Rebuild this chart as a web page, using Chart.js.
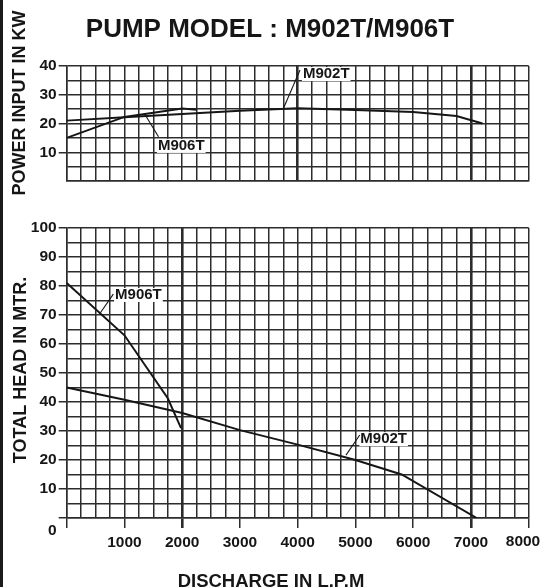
<!DOCTYPE html>
<html>
<head>
<meta charset="utf-8">
<script src="https://cdn.jsdelivr.net/npm/chart.js@4.4.1/dist/chart.umd.min.js"></script>
<style>
  html, body { margin: 0; padding: 0; background: #fff; }
  #wrap { position: relative; width: 542px; height: 587px; overflow: hidden; }
  #edge { position: absolute; left: 0; top: 0; width: 3px; height: 587px; background: #1b1b1b; }
  #power { position: absolute; left: 0; top: 0; width: 542px; height: 200px; }
  #head { position: absolute; left: 0; top: 200px; width: 542px; height: 387px; }
</style>
</head>
<body>
<div id="wrap">
  <canvas id="power" width="542" height="200"></canvas>
  <canvas id="head" width="542" height="387"></canvas>
  <div id="edge"></div>
</div>
<script>
var FONT = '"Liberation Sans", Arial, Helvetica, sans-serif';
var INK = '#161616';
var GRID = '#2c2c2c';

// discharge (L.P.M) and power input (kW)
var m902tPowerFlow = [0, 1000, 2000, 3000, 4000, 5000, 6000, 6750, 7200];
var m902tPower = [21, 22.2, 23.3, 24.4, 25.3, 24.7, 24, 22.6, 20];
var m906tPowerFlow = [0, 1000, 2000, 2250];
var m906tPower = [15, 22.3, 25.2, 24.8];

// discharge (L.P.M) and total head (m)
var m902tHeadFlow = [0, 1000, 2000, 3000, 4000, 5000, 5800, 7100];
var m902tHead = [45, 40.8, 36.2, 30.3, 25.3, 20, 15, 0];
var m906tHeadFlow = [0, 1000, 1750, 1980];
var m906tHead = [81, 63, 41.3, 31];

var flowMax = 8000;
var powerMax = 40;
var headMax = 100;

// curve names with leader lines: point on curve, leader end, text anchor
var powerNotes = ['M902T', 'M906T'];
var powerNoteFrom = [[3750, 25.1], [1345, 23.5]];
var powerNoteTo = [[4040, 38.6], [1590, 15.4]];
var powerNoteText = [[4090, 37.2], [1580, 12.2]];
var headNotes = ['M902T', 'M906T'];
var headNoteFrom = [[4836, 21.7], [578, 70.6]];
var headNoteTo = [[5074, 28.6], [807, 77.2]];
var headNoteText = [[5084, 27.2], [838, 76.9]];

function toPoints(xs, ys) {
  return xs.map(function (x, i) { return {x: x, y: ys[i]}; });
}

function lineSet(label, xs, ys) {
  return {
    label: label,
    data: toPoints(xs, ys),
    borderColor: INK,
    borderWidth: 2,
    pointRadius: 0,
    tension: 0,
    fill: false
  };
}

var tickFont = {family: FONT, size: 15.5, weight: 'bold'};

function flowAxis(bold, showLabels) {
  return {
    type: 'linear', min: 0, max: flowMax,
    afterFit: function (s) {
      s.height = showLabels ? 69 : 0;
      s.paddingLeft = 0;
      s.paddingRight = 0;
    },
    ticks: {
      display: showLabels, stepSize: 250, autoSkip: false, maxRotation: 0,
      maxTicksLimit: 200, font: tickFont, padding: 5,
      // the last label sits pulled in from the edge, it is drawn by the plugin
      color: function (c) { return c.tick && c.tick.value === flowMax ? 'rgba(0,0,0,0)' : INK; },
      callback: function (v) { return v % 1000 === 0 && v !== 0 ? String(v) : ''; }
    },
    grid: {
      color: GRID,
      drawTicks: showLabels,
      tickLength: 10,
      lineWidth: function (c) { return c.tick && bold.indexOf(c.tick.value) >= 0 ? 2.6 : 1.5; },
      tickColor: function (c) { return c.tick && c.tick.value % 1000 === 0 ? GRID : 'rgba(0,0,0,0)'; }
    },
    border: {display: true, color: GRID, width: 1.5}
  };
}

function valueAxis(max, tickZero) {
  return {
    type: 'linear', min: 0, max: max,
    afterFit: function (s) { s.width = 66.7; },
    ticks: {
      stepSize: 5, autoSkip: false, maxTicksLimit: 200, color: INK, font: tickFont, padding: 2,
      callback: function (v) { return v % 10 === 0 && v !== 0 ? String(v) : ''; }
    },
    grid: {
      color: GRID, lineWidth: 1.5, tickLength: 8,
      tickColor: function (c) {
        if (!c.tick) return 'rgba(0,0,0,0)';
        var v = c.tick.value;
        return v % 10 === 0 && (v !== 0 || tickZero) ? GRID : 'rgba(0,0,0,0)';
      }
    },
    border: {display: true, color: GRID, width: 1.5}
  };
}

var drawNotes = {
  id: 'drawNotes',
  afterDatasetsDraw: function (chart, args, opts) {
    var ctx = chart.ctx, xs = chart.scales.x, ys = chart.scales.y;
    function px(p) { return [xs.getPixelForValue(p[0]), ys.getPixelForValue(p[1])]; }
    ctx.save();
    ctx.font = 'bold 15px ' + FONT;
    ctx.textBaseline = 'middle';
    ctx.textAlign = 'left';
    opts.names.forEach(function (name, i) {
      var a = px(opts.from[i]), b = px(opts.to[i]), t = px(opts.text[i]);
      var w = ctx.measureText(name).width;
      ctx.fillStyle = '#fff';
      ctx.fillRect(t[0] - 1, t[1] - 7, w + 2, 14);
      ctx.strokeStyle = INK;
      ctx.lineWidth = 1.1;
      ctx.beginPath();
      ctx.moveTo(a[0], a[1]);
      ctx.lineTo(b[0], b[1]);
      ctx.stroke();
      ctx.fillStyle = INK;
      ctx.fillText(name, t[0], t[1]);
    });
    opts.texts.forEach(function (t) {
      ctx.save();
      ctx.translate(t.x, t.y);
      if (t.rotate) ctx.rotate(-Math.PI / 2);
      ctx.font = 'bold ' + t.size + 'px ' + FONT;
      ctx.textAlign = t.align || 'center';
      ctx.textBaseline = t.baseline || 'alphabetic';
      ctx.fillStyle = INK;
      ctx.fillText(t.text, 0, 0);
      ctx.restore();
    });
    ctx.restore();
  }
};

function baseOptions(padding) {
  return {
    responsive: false,
    animation: false,
    layout: {padding: padding},
    plugins: {legend: {display: false}, tooltip: {enabled: false}, title: {display: false}}
  };
}

var powerOpts = baseOptions({top: 66, right: 13.3, bottom: 19, left: 0});
powerOpts.scales = {x: flowAxis([4000, 7000], false), y: valueAxis(powerMax, false)};
powerOpts.plugins.drawNotes = {
  names: powerNotes, from: powerNoteFrom, to: powerNoteTo, text: powerNoteText,
  texts: [
    {text: 'PUMP MODEL : M902T/M906T', x: 270, y: 36.7, size: 26},
    {text: 'POWER INPUT IN KW', x: 25, y: 103, size: 18, rotate: true}
  ]
};

new Chart(document.getElementById('power'), {
  type: 'line',
  data: {datasets: [lineSet('M902T', m902tPowerFlow, m902tPower), lineSet('M906T', m906tPowerFlow, m906tPower)]},
  options: powerOpts,
  plugins: [drawNotes]
});

var headOpts = baseOptions({top: 28, right: 13.3, bottom: 0, left: 0});
headOpts.scales = {x: flowAxis([2000, 7000], true), y: valueAxis(headMax, true)};
headOpts.plugins.drawNotes = {
  names: headNotes, from: headNoteFrom, to: headNoteTo, text: headNoteText,
  texts: [
    {text: 'TOTAL HEAD IN MTR.', x: 25.5, y: 170, size: 18, rotate: true},
    {text: 'DISCHARGE IN L.P.M', x: 271, y: 386.5, size: 18.5},
    {text: '0', x: 56.7, y: 331, size: 15.5, align: 'right', baseline: 'middle'},
    {text: String(flowMax), x: 523, y: 341.5, size: 15.5, baseline: 'middle'}
  ]
};

new Chart(document.getElementById('head'), {
  type: 'line',
  data: {datasets: [lineSet('M902T', m902tHeadFlow, m902tHead), lineSet('M906T', m906tHeadFlow, m906tHead)]},
  options: headOpts,
  plugins: [drawNotes]
});
</script>
</body>
</html>
